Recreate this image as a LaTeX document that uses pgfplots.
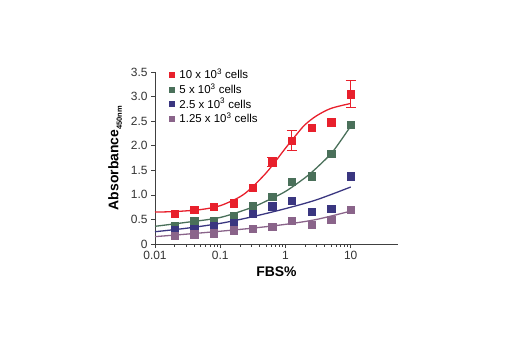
\documentclass[border=0pt]{standalone}
\usepackage{fontspec}
\setmainfont{Liberation Sans}
\usepackage{pgfplots}
\pgfplotsset{compat=1.18}
\definecolor{cred}{RGB}{232,32,44}
\definecolor{cgreen}{RGB}{74,112,90}
\definecolor{cblue}{RGB}{58,54,128}
\definecolor{cpurple}{RGB}{138,100,138}
\begin{document}
\begin{tikzpicture}[x=1bp,y=1bp]
\useasboundingbox (0,0) rectangle (520,350);
\begin{axis}[
  at={(155bp,106bp)}, anchor=south west,
  scale only axis, width=243bp, height=172bp,
  xmode=log, xmin=0.01, xmax=53,
  ymin=0, ymax=3.5,
  axis x line*=bottom, axis y line*=left,
  axis line style={black!75, line width=0.8pt},
  xtick={0.01,0.1,1,10}, xticklabels={0.01,0.1,1,10},
  ytick={0,0.5,1,1.5,2,2.5,3,3.5},
  yticklabels={0,0.5,1.0,1.5,2.0,2.5,3.0,3.5},
  minor xtick={},
  tick align=outside, major tick length=4bp,
  tick style={black!75, line width=0.6pt},
  tick label style={font=\fontsize{12}{13}\selectfont, text=black!80},
  /pgf/number format/assume math mode=true,
  xlabel={\textbf{FBS\%}},
  xlabel style={font=\fontsize{14}{16}\selectfont, yshift=0bp},
  ylabel={\textbf{Absorbance}\raisebox{-3.5bp}{\fontsize{7.5}{8}\selectfont\textbf{450nm}}},
  ylabel style={font=\fontsize{14}{16}\selectfont, yshift=2bp},
  legend style={at={(0.055,1.03)}, anchor=north west, draw=none, fill=none,
    font=\fontsize{11.5}{13}\selectfont, row sep=-0.8bp,
    legend cell align=left, inner sep=0pt},
  legend image code/.code={\fill[#1] (0bp,-2.6bp) rectangle (5.2bp,2.6bp); \path (8.5bp,0bp);},
  clip=false,
]
% fitted curves
\addplot[cred, line width=1.3pt, smooth, forget plot] coordinates {
 (0.01,0.65) (0.02,0.66) (0.05,0.70) (0.1,0.78) (0.2,0.96) (0.3,1.14) (0.5,1.44) (0.7,1.68) (1,1.95) (1.5,2.24) (2,2.43) (3,2.61) (5,2.76) (10,2.86)};
\addplot[cgreen, line width=1.3pt, smooth, forget plot] coordinates {
 (0.01,0.36) (0.03,0.44) (0.1,0.54) (0.3,0.74) (0.5,0.87) (1,1.07) (2,1.35) (3,1.55) (5,1.84) (7,2.1) (10,2.4)};
\addplot[cblue, line width=1.3pt, smooth, forget plot] coordinates {
 (0.01,0.25) (0.03,0.32) (0.1,0.42) (0.3,0.55) (1,0.72) (3,0.9) (10,1.16)};
\addplot[cpurple, line width=1.3pt, smooth, forget plot] coordinates {
 (0.01,0.15) (0.03,0.2) (0.1,0.26) (0.3,0.32) (1,0.4) (3,0.5) (10,0.67)};
% data
\addplot[only marks, mark=square*, mark size=3.6bp, cred, mark options={fill=cred, draw=cred},
  error bars/.cd, y dir=both, y explicit, error bar style={cred, line width=1pt}, error mark options={cred, line width=1pt, mark size=5bp, rotate=90}] coordinates {
 (0.02,0.62) (0.04,0.70) (0.08,0.76) (0.16,0.83) (0.3125,1.15) (0.625,1.67) +- (0,0.1) (1.25,2.11) +- (0,0.2) (2.5,2.37) (5,2.48) (10,3.05) +- (0,0.27)};
\addlegendentry{10 x 10\textsuperscript{3} cells}
\addplot[only marks, mark=square*, mark size=3.6bp, cgreen, mark options={fill=cgreen, draw=cgreen}] coordinates {
 (0.02,0.37) (0.04,0.47) (0.08,0.48) (0.16,0.58) (0.3125,0.77) (0.625,0.97) (1.25,1.27) (2.5,1.38) (5,1.83) (10,2.43)};
\addlegendentry{5 x 10\textsuperscript{3} cells}
\addplot[only marks, mark=square*, mark size=3.6bp, cblue, mark options={fill=cblue, draw=cblue}] coordinates {
 (0.02,0.28) (0.04,0.31) (0.08,0.37) (0.16,0.44) (0.3125,0.61) (0.625,0.77) (1.25,0.88) (2.5,0.66) (5,0.72) (10,1.38)};
\addlegendentry{2.5 x 10\textsuperscript{3} cells}
\addplot[only marks, mark=square*, mark size=3.6bp, cpurple, mark options={fill=cpurple, draw=cpurple}] coordinates {
 (0.02,0.17) (0.04,0.20) (0.08,0.22) (0.16,0.28) (0.3125,0.31) (0.625,0.36) (1.25,0.47) (2.5,0.39) (5,0.49) (10,0.70)};
\addlegendentry{1.25 x 10\textsuperscript{3} cells}
\end{axis}
\end{tikzpicture}
\end{document}
